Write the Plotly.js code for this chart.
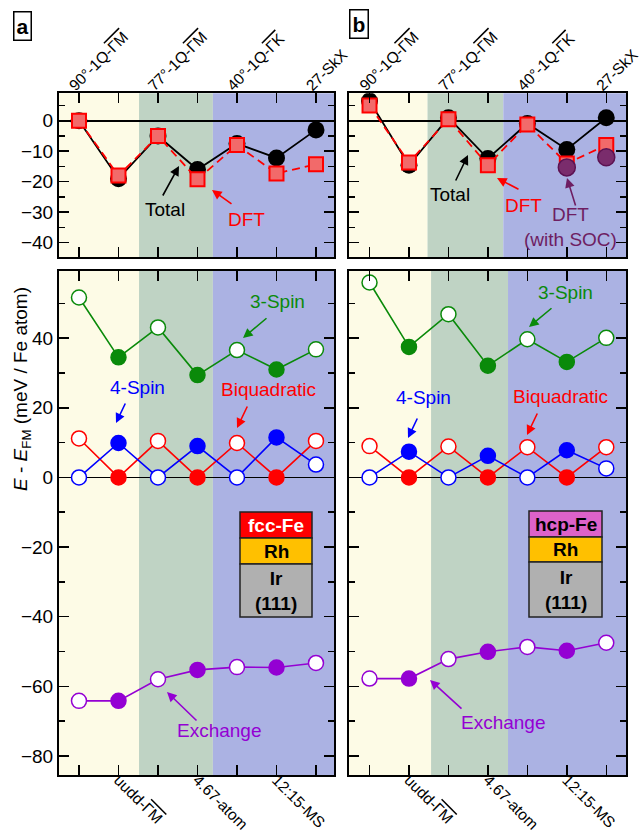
<!DOCTYPE html>
<html>
<head>
<meta charset="utf-8">
<script src="https://cdn.plot.ly/plotly-3.0.1.min.js"></script>
<style>html,body{margin:0;padding:0;background:#fff;}</style>
</head>
<body>
<div id="chart" style="width:643px;height:837px;"></div>
<script>
// ---- data ----
const OL = s => '<span style="text-decoration:overline">' + s + '</span>';
const states = ['90°-1Q-' + OL('ΓM'), 'uudd-' + OL('ΓM'), '77°-1Q-' + OL('ΓM'), '4.67-atom',
                '40°-1Q-' + OL('ΓK'), '12:15-MS', '27-SkX'];
const xIdx = [0, 1, 2, 3, 4, 5, 6];

// panel a (fcc-Fe/Rh/Ir(111))
const a_total = [0, -19, -5, -16, -7.5, -12.2, -3];
const a_dft   = [0, -18, -5, -19.2, -8, -17.3, -14.3];
const a_3spin = [51.7, 34.5, 43.1, 29.4, 36.6, 31.0, 36.8];
const a_biq   = [11.2, 0, 10.5, 0, 9.9, 0, 10.5];
const a_4spin = [0, 9.9, 0, 9.0, 0, 11.5, 3.7];
const a_exch  = [-64.2, -64.2, -58.0, -55.3, -54.5, -54.6, -53.3];

// panel b (hcp-Fe/Rh/Ir(111))
const b_total = [6.5, -14.6, 1, -12.4, -0.9, -9.4, 1];
const b_dft   = [5, -13.7, 0.5, -14.6, -1.2, -14, -8];
const b_soc   = [null, null, null, null, null, -15.3, -12];
const b_3spin = [56.0, 37.5, 46.9, 32.1, 39.7, 33.2, 40.1];
const b_biq   = [9.0, 0, 8.9, 0, 8.7, 0, 8.7];
const b_4spin = [0, 7.4, 0, 6.2, 0, 7.8, 2.6];
const b_exch  = [-57.8, -57.8, -52.2, -50.1, -48.7, -49.8, -47.5];

// ---- helpers ----
const W = 643, H = 837;
const px = x => x / W, py = y => 1 - y / H;
const FONT = 'Liberation Sans, Arial, sans-serif';
const openFill = (c) => xIdx.map(i => (i % 2 === 0 ? 'white' : c));

function topTraces(total, dft, xa, ya) {
  return [
    {x: xIdx, y: total, xaxis: xa, yaxis: ya, type: 'scatter', mode: 'lines+markers',
     line: {color: 'black', width: 1.8}, marker: {symbol: 'circle', size: 17, color: 'black'},
     cliponaxis: true, hoverinfo: 'skip'},
    {x: xIdx, y: dft, xaxis: xa, yaxis: ya, type: 'scatter', mode: 'lines+markers',
     line: {color: '#ff0000', width: 1.8, dash: '8px,5px'},
     marker: {symbol: 'square', size: 14, color: '#f26a6a', line: {color: '#ff0000', width: 2}},
     cliponaxis: true, hoverinfo: 'skip'}
  ];
}
function botTrace(y, c, xa, ya) {
  return {x: xIdx, y: y, xaxis: xa, yaxis: ya, type: 'scatter', mode: 'lines+markers',
    line: {color: c, width: 1.6},
    marker: {symbol: 'circle', size: 15, color: openFill(c), line: {color: c, width: 1.5}},
    cliponaxis: false, hoverinfo: 'skip'};
}

const GREEN = '#0a8a0a', BLUE = '#0000ff', RED = '#ff0000', PURPLE = '#9400d3';

const data = [
  ...topTraces(a_total, a_dft, 'x', 'y'),
  ...topTraces(b_total, b_dft, 'x3', 'y3'),
  {x: xIdx, y: b_soc, xaxis: 'x3', yaxis: 'y3', type: 'scatter', mode: 'markers',
   marker: {symbol: 'circle', size: 17, color: '#7a2c6c', line: {color: '#5c1252', width: 1.5}},
   hoverinfo: 'skip'},
  botTrace(a_3spin, GREEN, 'x2', 'y2'),
  botTrace(a_biq, RED, 'x2', 'y2'),
  botTrace(a_4spin, BLUE, 'x2', 'y2'),
  botTrace(a_exch, PURPLE, 'x2', 'y2'),
  botTrace(b_3spin, GREEN, 'x4', 'y4'),
  botTrace(b_biq, RED, 'x4', 'y4'),
  botTrace(b_4spin, BLUE, 'x4', 'y4'),
  botTrace(b_exch, PURPLE, 'x4', 'y4'),
];

// ---- axes ----
const domA = [px(59), px(334)], domB = [px(349), px(626)];
const domTop = [py(257), py(93.3)], domBot = [py(775), py(270.7)];
const rangeA = [-0.506, 6.456], rangeB = [-0.52, 6.5];

function xAxis(dom, rng, anchor, side, showLabels) {
  const evens = side === 'top';
  return {
    domain: dom, range: rng, anchor: anchor, side: side,
    tickmode: 'array', tickvals: xIdx,
    ticktext: states.map((s, i) => (showLabels && ((i % 2 === 0) === evens) ? s : '')),
    tickangle: evens ? -45 : 45,
    ticks: 'inside', ticklen: 10, tickwidth: 1.5, tickcolor: 'black',
    ticklabeloverflow: 'allow', ticklabelstandoff: evens ? -9 : -12, ticklabelshift: evens ? -9 : 0,
    showline: true, linewidth: 2, linecolor: 'black', mirror: 'ticks',
    showgrid: false, zeroline: false, fixedrange: true,
    tickfont: {family: FONT, size: 15.5, color: 'black'}
  };
}
function yAxis(dom, rng, anchor, dtick, showLabels) {
  return {
    domain: dom, range: rng, anchor: anchor,
    tick0: 0, dtick: dtick, ticks: 'inside', ticklen: 10, tickwidth: 1.5, tickcolor: 'black',
    minor: {dtick: dtick / 2, tick0: 0, ticks: 'inside', ticklen: 6, tickwidth: 1.5, tickcolor: 'black'},
    showline: true, linewidth: 2, linecolor: 'black', mirror: 'ticks',
    showgrid: false, zeroline: true, zerolinecolor: 'black', zerolinewidth: 1.6,
    showticklabels: showLabels, fixedrange: true,
    tickfont: {family: FONT, size: 19, color: 'black'}
  };
}

// ---- background bands ----
const YEL = '#fdfbe6', GRN = '#bfd3c4', BLU = '#abb2e3';
function bands(xr, yr, b1, b2) {
  return [[-1, b1, YEL], [b1, b2, GRN], [b2, 7.5, BLU]].map(([x0, x1, c]) => ({
    type: 'rect', xref: xr, yref: yr + ' domain', x0: x0, x1: x1, y0: 0, y1: 1,
    fillcolor: c, line: {width: 0}, layer: 'below'
  }));
}
function stack(x0, x1, rows) {
  return rows.map(r => ({type: 'rect', xref: 'paper', yref: 'paper',
    x0: px(x0), x1: px(x1), y0: py(r[1]), y1: py(r[0]),
    fillcolor: r[2], line: {color: '#222', width: 1.5}, layer: 'above'}));
}
const shapes = [
  ...bands('x', 'y', 1.52, 3.39),
  ...bands('x2', 'y2', 1.52, 3.39),
  ...bands('x3', 'y3', 1.47, 3.39),
  ...bands('x4', 'y4', 1.56, 3.51),
  ...stack(240, 312, [[512, 538, '#ff0000'], [538, 564, '#ffc000'], [564, 617, '#b0b0b0']]),
  ...stack(529, 602, [[511, 537, '#dd62c9'], [537, 562, '#ffc000'], [562, 617, '#b0b0b0']]),
];

// ---- annotations ----
function txt(t, x, y, c, extra) {
  return Object.assign({text: t, xref: 'paper', yref: 'paper', x: px(x), y: py(y),
    xanchor: 'center', yanchor: 'middle', showarrow: false,
    font: {family: FONT, size: 19, color: c}}, extra || {});
}
function arr(hx, hy, tx, ty, c) {
  return {text: '', xref: 'paper', yref: 'paper', x: px(hx), y: py(hy),
    ax: tx - hx, ay: ty - hy, axref: 'pixel', ayref: 'pixel', showarrow: true,
    arrowhead: 2, arrowsize: 1.2, arrowwidth: 1.6, arrowcolor: c, standoff: 0};
}
const SOC = '#6e1e62';
const annotations = [
  txt('<b>a</b>', 22.5, 26, 'black', {font: {family: FONT, size: 21, color: 'black'},
     bordercolor: 'black', borderwidth: 1.5, borderpad: 2, bgcolor: 'white'}),
  txt('<b>b</b>', 358.5, 24, 'black', {font: {family: FONT, size: 21, color: 'black'},
     bordercolor: 'black', borderwidth: 1.5, borderpad: 2, bgcolor: 'white'}),
  txt('<i>E</i> - <i>E</i><sub>FM</sub> (meV / Fe atom)', 22, 389, 'black', {textangle: -90}),
  // panel a top
  txt('Total', 165, 210, 'black'), arr(179, 166, 162, 197, 'black'),
  txt('DFT', 246, 220, RED), arr(212, 190, 233, 205, RED),
  // panel b top
  txt('Total', 450, 195, 'black'), arr(468, 155, 455, 182, 'black'),
  txt('DFT', 523, 205, RED), arr(497, 178, 520, 190, RED),
  txt('DFT<br>(with SOC)', 570, 227, SOC), arr(567, 178, 576, 207, SOC),
  // panel a bottom
  txt('3-Spin', 277, 302, GREEN), arr(243, 338, 268, 317, GREEN),
  txt('4-Spin', 137, 387, BLUE), arr(116, 423, 126, 402, BLUE),
  txt('Biquadratic', 268, 389, RED), arr(237, 428, 248, 405, RED),
  txt('Exchange', 219, 730, PURPLE), arr(167, 692, 198, 722, PURPLE),
  // panel b bottom
  txt('3-Spin', 565, 293, GREEN), arr(529, 327, 553, 307, GREEN),
  txt('4-Spin', 423, 397, BLUE), arr(408, 438, 418, 417, BLUE),
  txt('Biquadratic', 560, 396, RED), arr(527, 435, 538, 412, RED),
  txt('Exchange', 503, 722, PURPLE), arr(430, 680, 463, 710, PURPLE),
  // layer stacks
  txt('<b>fcc-Fe</b>', 276, 525, 'white'), txt('<b>Rh</b>', 276, 551, 'black'),
  txt('<b>Ir<br>(111)</b>', 276, 590.5, 'black'),
  txt('<b>hcp-Fe</b>', 565.5, 524, 'black'), txt('<b>Rh</b>', 565.5, 549.5, 'black'),
  txt('<b>Ir<br>(111)</b>', 565.5, 589.5, 'black'),
];

const layout = {
  width: W, height: H, margin: {l: 0, r: 0, t: 0, b: 0},
  paper_bgcolor: 'white', plot_bgcolor: 'white', showlegend: false,
  font: {family: FONT, size: 19, color: 'black'},
  xaxis: xAxis(domA, rangeA, 'y', 'top', true),
  yaxis: yAxis(domTop, [-44.7, 9], 'x', 10, true),
  xaxis2: xAxis(domA, rangeA, 'y2', 'bottom', true),
  yaxis2: yAxis(domBot, [-85.5, 59.4], 'x2', 20, true),
  xaxis3: xAxis(domB, rangeB, 'y3', 'top', true),
  yaxis3: yAxis(domTop, [-44.7, 9], 'x3', 10, false),
  xaxis4: xAxis(domB, rangeB, 'y4', 'bottom', true),
  yaxis4: yAxis(domBot, [-85.5, 59.4], 'x4', 20, false),
  shapes: shapes, annotations: annotations
};

Plotly.newPlot('chart', data, layout, {staticPlot: true, displayModeBar: false});
</script>
</body>
</html>
